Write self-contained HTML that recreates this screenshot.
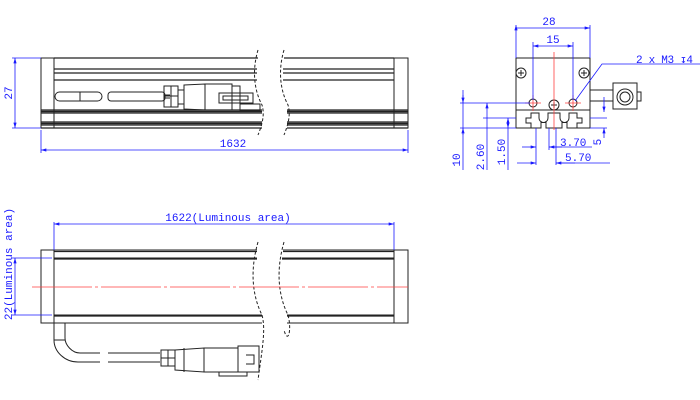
<!DOCTYPE html>
<html><head><meta charset="utf-8"><style>
html,body{margin:0;padding:0;background:#fff;}
svg{display:block}
text{font-family:"Liberation Mono","DejaVu Sans Mono",monospace;fill:#1a1aff;font-size:11px}
</style></head><body>
<svg width="700" height="400" viewBox="0 0 700 400" xmlns="http://www.w3.org/2000/svg">
<defs>
<marker id="a" viewBox="0 0 10 6" refX="10" refY="3" markerWidth="7" markerHeight="4" orient="auto-start-reverse"><path d="M0,0L10,3L0,6z" fill="#1a1aff"/></marker>
</defs>
<g stroke="#222" fill="none" stroke-width="1">
<!-- TOP VIEW -->
<rect x="41" y="58" width="13" height="70" fill="#fff"/>
<rect x="394" y="58" width="14" height="70" fill="#fff"/>
<path d="M54,58H258 M54,69H257 M54,73H257 M54,80H257 M284,58H394 M283,69H394 M283,73H394 M283,80H394" stroke-width="1.2"/>
<path d="M41,110H262 M41,113H262 M41,122H262 M41,125H262 M41,128H262 M287,110H408 M287,113H408 M287,122H408 M287,125H408 M287,128H408" stroke-width="1.2"/>
<path d="M41,111.5H262 M287,111.5H408 M41,123.5H262 M287,123.5H408" stroke-width="1.5"/>
<path d="M258,50 C252,70 254,90 262,105 C265,115 262,125 258,135" stroke-dasharray="3,2"/>
<path d="M284,50 C278,70 280,90 288,105 C291,115 288,125 284,135" stroke-dasharray="3,2"/>
<rect x="55" y="92" width="47" height="9" rx="4.5"/>
<path d="M80,92V101"/>
<rect x="108" y="92" width="57" height="9" rx="3"/>
<path d="M165,95H170 M165,98H170"/>
<rect x="164" y="86" width="14" height="21"/>
<path d="M171,86V107 M164,96H178"/>
<rect x="178" y="90" width="6" height="14"/>
<path d="M184,85L205,84V110L184,109Z"/>
<rect x="205" y="84" width="27" height="26"/>
<rect x="219" y="93" width="34" height="10"/>
<rect x="223" y="96" width="25" height="4"/>
<rect x="232" y="86" width="8" height="24"/>
<rect x="240" y="104" width="20" height="7"/>
<!-- BOTTOM VIEW -->
<rect x="41" y="250" width="13" height="73" fill="#fff"/>
<rect x="394" y="250" width="14" height="73" fill="#fff"/>
<path d="M54,250H257 M54,258H257 M54,315H262 M54,323H262 M283,250H394 M282,258H394 M287,315H394 M287,323H394"/>
<path d="M54,251.5H257 M54,259H257 M54,316H262 M283,251.5H394 M282,259H394 M287,316H394" stroke-width="1.3"/>
<path d="M258,242 C250,270 252,295 262,315 C266,330 262,350 258,380" stroke-dasharray="3,2"/>
<path d="M284,242 C276,270 278,295 288,315 C292,330 288,345 284,330" stroke-dasharray="3,2"/>
<path d="M54,323V340 C54,352 65,362 78,362H100 M65,323V338 C65,345 72,353 80,353H100"/>
<path d="M54,340H65"/>
<path d="M108,353H160 M108,362H160"/>
<rect x="161" y="350" width="14" height="16"/>
<path d="M168,350V366 M161,358H175"/>
<path d="M175,350L204,348V372L175,370Z"/>
<path d="M184,348V372"/>
<rect x="204" y="348" width="34" height="24"/>
<rect x="238" y="346" width="21" height="26"/>
<path d="M246,355H254V364H246"/>
<rect x="219" y="372" width="28" height="4"/>
<!-- END VIEW -->
<rect x="516" y="58" width="74" height="52" fill="#fff"/>
<circle cx="521" cy="73" r="5"/><path d="M518,73H524M521,70V76"/>
<circle cx="584" cy="73" r="5"/><path d="M581,73H587M584,70V76"/>
<circle cx="533" cy="103" r="4"/><circle cx="573" cy="103" r="4"/>
<circle cx="554" cy="105" r="5"/><path d="M551,105H557M554,102V108"/>
<path d="M516,110V128H531V123H526V118H531V113H539V118 M548,118V113H560V118 M569,118V113H577V118H582V123H577V128H590V110 M539,118A3,3 0 0 0 548,118 M560,118A3,3 0 0 0 569,118 M531,128H541V121 M546,121V128H562V121 M567,121V128H577" />
<path d="M516,110H590"/>
<path d="M590,90H613 M590,101H613"/>
<rect x="613" y="83" width="24" height="26" fill="#fff"/>
<circle cx="625" cy="97" r="8"/><circle cx="625" cy="97" r="5"/>
<rect x="637" y="92" width="4" height="9"/>
</g>
<g stroke="#ff4040" stroke-width="0.8" fill="none">
<path d="M32,287H408" stroke-dasharray="60,3,3,3"/>
<path d="M554,52V130"/>
<path d="M525,103H541M533,95V111M565,103H581M573,95V111"/>
</g>
<g stroke="#1a1aff" stroke-width="0.8" fill="none">
<path d="M15,58V128" marker-start="url(#a)" marker-end="url(#a)"/>
<path d="M12,58H41M12,128H41"/>
<path d="M41,130V153M408,130V153"/>
<path d="M41,150H408" marker-start="url(#a)" marker-end="url(#a)"/>
<path d="M54,222V250M394,222V250"/>
<path d="M54,224H394" marker-start="url(#a)" marker-end="url(#a)"/>
<path d="M15,258V315" marker-start="url(#a)" marker-end="url(#a)"/>
<path d="M12,258H52M12,315H52"/>
<path d="M516,25V58M590,25V58M516,28H590" marker-start="url(#a)" marker-end="url(#a)"/>
<path d="M533,42V100M573,42V100"/>
<path d="M533,46H573" marker-start="url(#a)" marker-end="url(#a)"/>
<path d="M460,103H530M483,118H516M460,128H516"/>
<path d="M463,90V170" /><path d="M463,95V103" marker-end="url(#a)"/><path d="M463,135V128" marker-end="url(#a)"/>
<path d="M487,103V170" marker-start="url(#a)"/>
<path d="M508,118V128" marker-start="url(#a)" marker-end="url(#a)"/><path d="M508,128V170"/>
<path d="M590,118H607M590,128H607"/>
<path d="M604,97V112" marker-end="url(#a)"/><path d="M604,138V128" marker-end="url(#a)"/>
<path d="M536,128V165M549,128V150M556,128V165"/>
<path d="M522,147H536" marker-end="url(#a)"/><path d="M562,147H549" marker-end="url(#a)"/><path d="M549,147H592"/>
<path d="M517,163H536" marker-end="url(#a)"/><path d="M575,163H556" marker-end="url(#a)"/><path d="M556,163H610"/>
<path d="M575,101L602,64H700"/>
</g>
<text x="12" y="93" text-anchor="middle" transform="rotate(-90 12 93)">27</text>
<text x="233" y="147" text-anchor="middle">1632</text>
<text x="228" y="221" text-anchor="middle">1622(Luminous area)</text>
<text x="12" y="264" text-anchor="middle" font-size="10" transform="rotate(-90 12 264)">22(Luminous area)</text>
<text x="549" y="25" text-anchor="middle">28</text>
<text x="553" y="43" text-anchor="middle">15</text>
<text x="636" y="63" font-size="10.5" letter-spacing="-0.3">2 x M3 ↧4</text>
<text x="460" y="160" text-anchor="middle" transform="rotate(-90 460 160)">10</text>
<text x="484" y="157" text-anchor="middle" transform="rotate(-90 484 157)">2.60</text>
<text x="505" y="152" text-anchor="middle" transform="rotate(-90 505 152)">1.50</text>
<text x="601" y="142" text-anchor="middle" transform="rotate(-90 601 142)">5</text>
<text x="560" y="146">3.70</text>
<text x="565" y="161">5.70</text>
</svg>
</body></html>
